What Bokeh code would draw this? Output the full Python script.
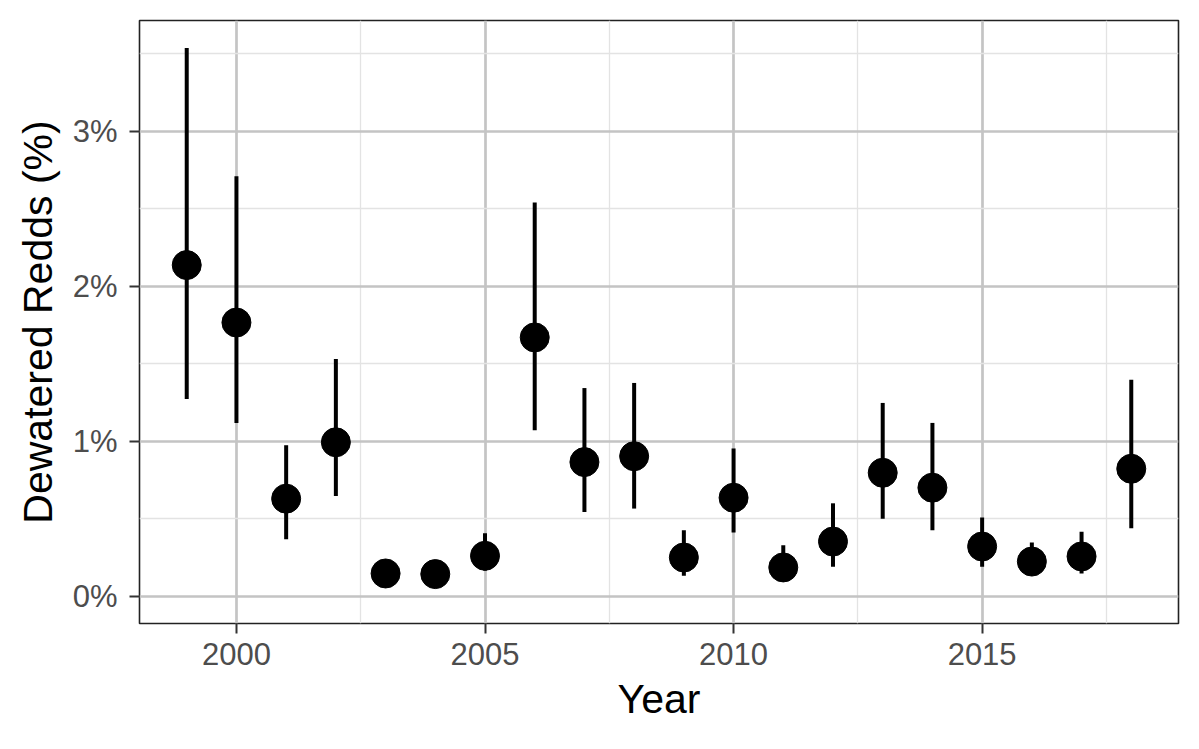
from bokeh.plotting import figure
from bokeh.models import Range1d, FixedTicker, CustomJSTickFormatter, ColumnDataSource
from bokeh.embed import file_html
from bokeh.resources import INLINE

years = list(range(1999, 2019))
estimate = [2.137, 1.766, 0.629, 0.993, 0.146, 0.142, 0.260, 1.670, 0.865, 0.903,
            0.249, 0.635, 0.185, 0.352, 0.796, 0.700, 0.320, 0.223, 0.256, 0.822]
lower = [1.273, 1.118, 0.367, 0.646, 0.090, 0.090, 0.165, 1.071, 0.543, 0.565,
         0.131, 0.410, 0.120, 0.189, 0.500, 0.425, 0.189, 0.140, 0.146, 0.438]
upper = [3.539, 2.710, 0.974, 1.530, 0.210, 0.200, 0.406, 2.541, 1.343, 1.376,
         0.425, 0.953, 0.328, 0.599, 1.247, 1.118, 0.507, 0.346, 0.416, 1.397]

x_major = [2000, 2005, 2010, 2015]
x_minor = [2002.5, 2007.5, 2012.5, 2017.5]
y_major = [0, 1, 2, 3]
y_minor = [0.5, 1.5, 2.5, 3.5]

src = ColumnDataSource(dict(year=years, est=estimate, lo=lower, hi=upper))

# ggplot-style 5% expansion (y axis includes zero)
xlo, xhi = min(years), max(years)
xpad = 0.05 * (xhi - xlo)
ylo, yhi = min(0, min(lower)), max(upper)
ypad = 0.05 * (yhi - ylo)

FONT = "Liberation Sans"

p = figure(width=1183, height=733, output_backend="svg", toolbar_location=None,
           x_range=Range1d(xlo - xpad, xhi + xpad),
           y_range=Range1d(ylo - ypad, yhi + ypad),
           min_border_left=139, min_border_right=5, min_border_top=20,
           min_border_bottom=110)

p.outline_line_color = "#222222"
p.outline_line_width = 1.6
p.background_fill_color = "white"
p.border_fill_color = "white"

p.xaxis.ticker = FixedTicker(ticks=x_major, minor_ticks=x_minor)
p.yaxis.ticker = FixedTicker(ticks=y_major, minor_ticks=y_minor)
p.yaxis.formatter = CustomJSTickFormatter(code="return tick.toFixed(0) + '%';")

for g in (p.xgrid, p.ygrid):
    g.grid_line_color = "#c4c4c4"
    g.grid_line_width = 2.7
    g.minor_grid_line_color = "#e3e3e3"
    g.minor_grid_line_width = 1.3

for ax in (p.xaxis, p.yaxis):
    ax.axis_line_color = None
    ax.major_tick_line_color = "#333333"
    ax.major_tick_line_width = 2
    ax.major_tick_out = 10
    ax.major_tick_in = 0
    ax.minor_tick_line_color = None
    ax.major_label_text_font = FONT
    ax.major_label_text_font_size = "31px"
    ax.major_label_text_color = "#4d4d4d"
    ax.axis_label_text_font = FONT
    ax.axis_label_text_font_size = "41px"
    ax.axis_label_text_font_style = "normal"
    ax.axis_label_text_color = "black"

p.xaxis.axis_label = "Year"
p.yaxis.axis_label = "Dewatered Redds (%)"
p.xaxis.major_label_standoff = 9
p.yaxis.major_label_standoff = 12
p.xaxis.axis_label_standoff = 8
p.yaxis.axis_label_standoff = 9

p.segment(x0="year", y0="lo", x1="year", y1="hi", source=src,
          line_color="black", line_width=4)
p.scatter(x="year", y="est", source=src, size=29,
          fill_color="black", line_color="black")

open("out.html", "w").write(file_html(p, INLINE))
